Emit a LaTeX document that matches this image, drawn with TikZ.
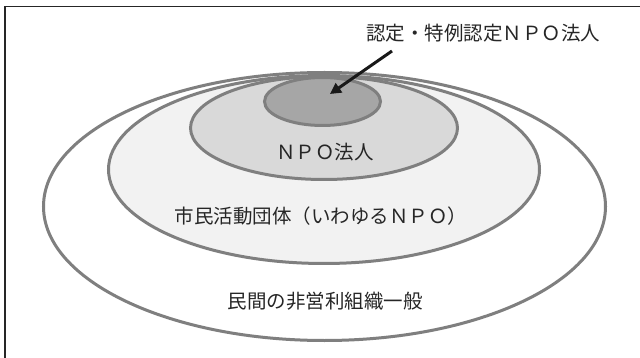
\documentclass[tikz,border=0pt]{standalone}
\usepackage{fontspec}
\setmainfont{Noto Sans CJK JP}
\usetikzlibrary{shapes.geometric,arrows.meta}
\definecolor{rimgray}{HTML}{7F7F7F}
\definecolor{fillA}{HTML}{F2F2F2}
\definecolor{fillB}{HTML}{D9D9D9}
\definecolor{fillC}{HTML}{A6A6A6}
\definecolor{txtgray}{HTML}{262626}
\begin{document}
\begin{tikzpicture}[x=1pt,y=-1pt,
  ring/.style={ellipse, draw=rimgray, line width=3pt, inner sep=0pt, outer sep=0pt},
  lbl/.style={font=\fontsize{19.5}{22}\selectfont, text=txtgray, inner sep=0pt}]
\useasboundingbox (0,0) rectangle (640,358);
\fill[white] (0,0) rectangle (640,358);
\draw[line width=1.3pt, black!85] (640,6.7) -- (5,6.7) -- (5,358);
\node[ring, fill=white, minimum width=562pt, minimum height=268pt] (general) at (324.5,206.5) {};
\node[ring, fill=fillA, minimum width=431pt, minimum height=188pt] (civic) at (324,169.5) {};
\node[ring, fill=fillB, minimum width=267pt, minimum height=103pt] (npo) at (324,128) {};
\node[ring, fill=fillC, minimum width=116pt, minimum height=48pt] (cert) at (322.5,101.5) {};
\node[lbl] (tcert) at (483,33) {認定・特例認定ＮＰＯ法人};
\node[lbl] (tnpo) at (325,152) {ＮＰＯ法人};
\node[lbl] (tcivic) at (321,216) {市民活動団体（いわゆるＮＰＯ）};
\node[lbl] (tgeneral) at (325,301) {民間の非営利組織一般};
\coordinate (astart) at (392,51);
\coordinate (aend) at (330,94);
\draw[line width=3pt, black!90, -{Triangle[length=11pt,width=11pt]}] (astart) -- (aend);
\end{tikzpicture}
\end{document}
